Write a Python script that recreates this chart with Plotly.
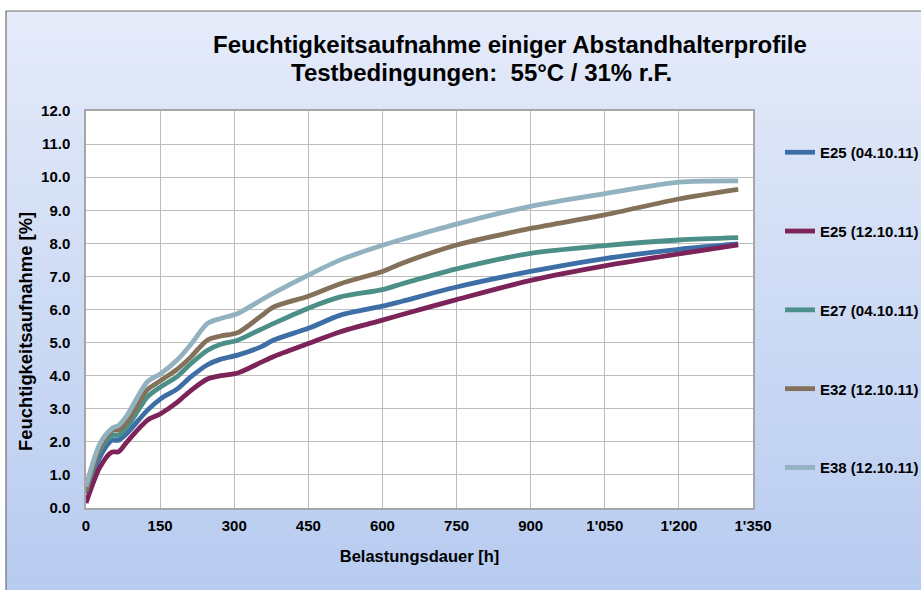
import plotly.graph_objects as go

# ---------------- data ----------------
hours = [0, 28, 52, 66, 83, 124, 151, 185, 212, 246, 273, 307, 354, 380, 450, 515, 600, 640, 750, 900, 1050, 1200, 1320]

series_names = ["E25 (04.10.11)", "E25 (12.10.11)", "E27 (04.10.11)", "E32 (12.10.11)", "E38 (12.10.11)"]

e25_0410 = [0.45, 1.54, 2.04, 2.05, 2.26, 2.95, 3.30, 3.60, 3.96, 4.33, 4.50, 4.62, 4.87, 5.08, 5.43, 5.83, 6.10, 6.25, 6.68, 7.15, 7.54, 7.82, 7.98]
e25_1210 = [0.15, 1.23, 1.69, 1.70, 2.00, 2.65, 2.85, 3.20, 3.55, 3.90, 4.00, 4.08, 4.40, 4.58, 4.97, 5.33, 5.68, 5.85, 6.30, 6.88, 7.32, 7.68, 7.95]
e27_0410 = [0.50, 1.74, 2.19, 2.20, 2.44, 3.35, 3.66, 3.98, 4.36, 4.77, 4.95, 5.07, 5.40, 5.58, 6.04, 6.38, 6.60, 6.78, 7.23, 7.70, 7.93, 8.10, 8.17]
e32_1210 = [0.55, 1.84, 2.34, 2.36, 2.60, 3.57, 3.85, 4.20, 4.56, 5.08, 5.20, 5.30, 5.80, 6.08, 6.40, 6.78, 7.15, 7.40, 7.95, 8.45, 8.86, 9.34, 9.63]
e38_1210 = [0.65, 1.94, 2.40, 2.50, 2.80, 3.81, 4.06, 4.48, 4.94, 5.58, 5.73, 5.88, 6.28, 6.50, 7.04, 7.50, 7.94, 8.12, 8.58, 9.12, 9.50, 9.85, 9.89]

x_tick_vals = [0, 150, 300, 450, 600, 750, 900, 1050, 1200, 1350]
x_tick_text = ["0", "150", "300", "450", "600", "750", "900", "1'050", "1'200", "1'350"]

title_line1 = "Feuchtigkeitsaufnahme einiger Abstandhalterprofile"
title_line2 = "Testbedingungen:  55°C / 31% r.F."
x_title = "Belastungsdauer [h]"
y_title = "Feuchtigkeitsaufnahme [%]"

colors = ["#3E6EA6", "#7C2459", "#4C8F88", "#84715A", "#92B2C0"]

# ---------------- layout geometry ----------------
W, H = 921, 590
L, R, T, B = 86, 753, 111, 508   # plot area in pixels


def px_x(p):
    return (p - L) / (R - L)


def px_y(p):
    return (B - p) / (B - T)


FONT = "Liberation Sans, Arial, sans-serif"

fig = go.Figure()
all_series = [e25_0410, e25_1210, e27_0410, e32_1210, e38_1210]
for i, (name, vals) in enumerate(zip(series_names, all_series)):
    fig.add_trace(go.Scatter(
        x=hours, y=vals, name=name, mode="lines",
        line=dict(color=colors[i], width=4.8, shape="spline", smoothing=0.8),
        legendgroup=f"g{i}",
    ))

# background gradient bands
shapes = []
n = 80
top_c = (229, 235, 249)
bot_c = (183, 203, 240)
y_top_px, y_bot_px = 11, 600
for k in range(n):
    t = k / (n - 1)
    c = tuple(round(top_c[j] + (bot_c[j] - top_c[j]) * t) for j in range(3))
    y0 = y_top_px + (y_bot_px - y_top_px) * k / n
    y1 = y_top_px + (y_bot_px - y_top_px) * (k + 1) / n + 1
    shapes.append(dict(type="rect", xref="paper", yref="paper", layer="below",
                       x0=px_x(6), x1=px_x(940), y0=px_y(y0), y1=px_y(y1),
                       fillcolor=f"rgb{c}", line=dict(width=0)))
# white plot area
shapes.append(dict(type="rect", xref="paper", yref="paper", layer="below",
                   x0=0, x1=1, y0=0, y1=1, fillcolor="white", line=dict(width=0)))
# outer frame
shapes.append(dict(type="rect", xref="paper", yref="paper", layer="above",
                   x0=px_x(6), x1=px_x(960), y0=px_y(11), y1=px_y(620),
                   fillcolor="rgba(0,0,0,0)", line=dict(color="#6E6E6E", width=1.2)))

annotations = [
    dict(text=title_line1, xref="paper", yref="paper", x=px_x(510), y=px_y(45),
         xanchor="center", yanchor="middle", showarrow=False,
         font=dict(family=FONT, size=24, color="black", weight="bold")),
    dict(text=title_line2, xref="paper", yref="paper", x=px_x(481), y=px_y(72),
         xanchor="center", yanchor="middle", showarrow=False,
         font=dict(family=FONT, size=24, color="black", weight="bold")),
    dict(text=y_title, xref="paper", yref="paper", x=px_x(25), y=px_y(332),
         xanchor="center", yanchor="middle", showarrow=False, textangle=-90,
         font=dict(family=FONT, size=18.4, color="black", weight="bold")),
]

fig.update_layout(
    width=W, height=H,
    margin=dict(l=L, r=W - R, t=T, b=H - B, pad=0, autoexpand=False),
    paper_bgcolor="white",
    plot_bgcolor="rgba(0,0,0,0)",
    shapes=shapes,
    annotations=annotations,
    font=dict(family=FONT, color="black"),
    showlegend=True,
    legend=dict(
        xref="container", yref="container",
        x=780 / W, y=1 - 136 / H, xanchor="left", yanchor="top",
        bgcolor="rgba(0,0,0,0)", borderwidth=0,
        font=dict(family=FONT, size=15, color="black", weight="bold"),
        tracegroupgap=56.3, itemwidth=30, maxheight=560,
    ),
    xaxis=dict(
        range=[0, 1350], tickvals=x_tick_vals, ticktext=x_tick_text,
        showgrid=True, gridcolor="#BDBDBD", gridwidth=1,
        showline=True, linecolor="#A6A6A6", linewidth=1.5, mirror=True,
        zeroline=False, ticks="", ticklabelstandoff=3, automargin=False,
        tickfont=dict(family=FONT, size=15, color="black", weight="bold"),
        title=dict(text=x_title, standoff=18,
                   font=dict(family=FONT, size=16.5, color="black", weight="bold")),
    ),
    yaxis=dict(
        range=[0, 12], dtick=1, tick0=0, tickformat=".1f",
        showgrid=True, gridcolor="#BDBDBD", gridwidth=1,
        showline=True, linecolor="#A6A6A6", linewidth=1.5, mirror=True,
        zeroline=False, ticks="", ticklabelstandoff=11, automargin=False,
        tickfont=dict(family=FONT, size=15, color="black", weight="bold"),
    ),
)

fig.write_html("out.html", config={"displayModeBar": False},
               post_script="document.body.style.margin='0px';")
